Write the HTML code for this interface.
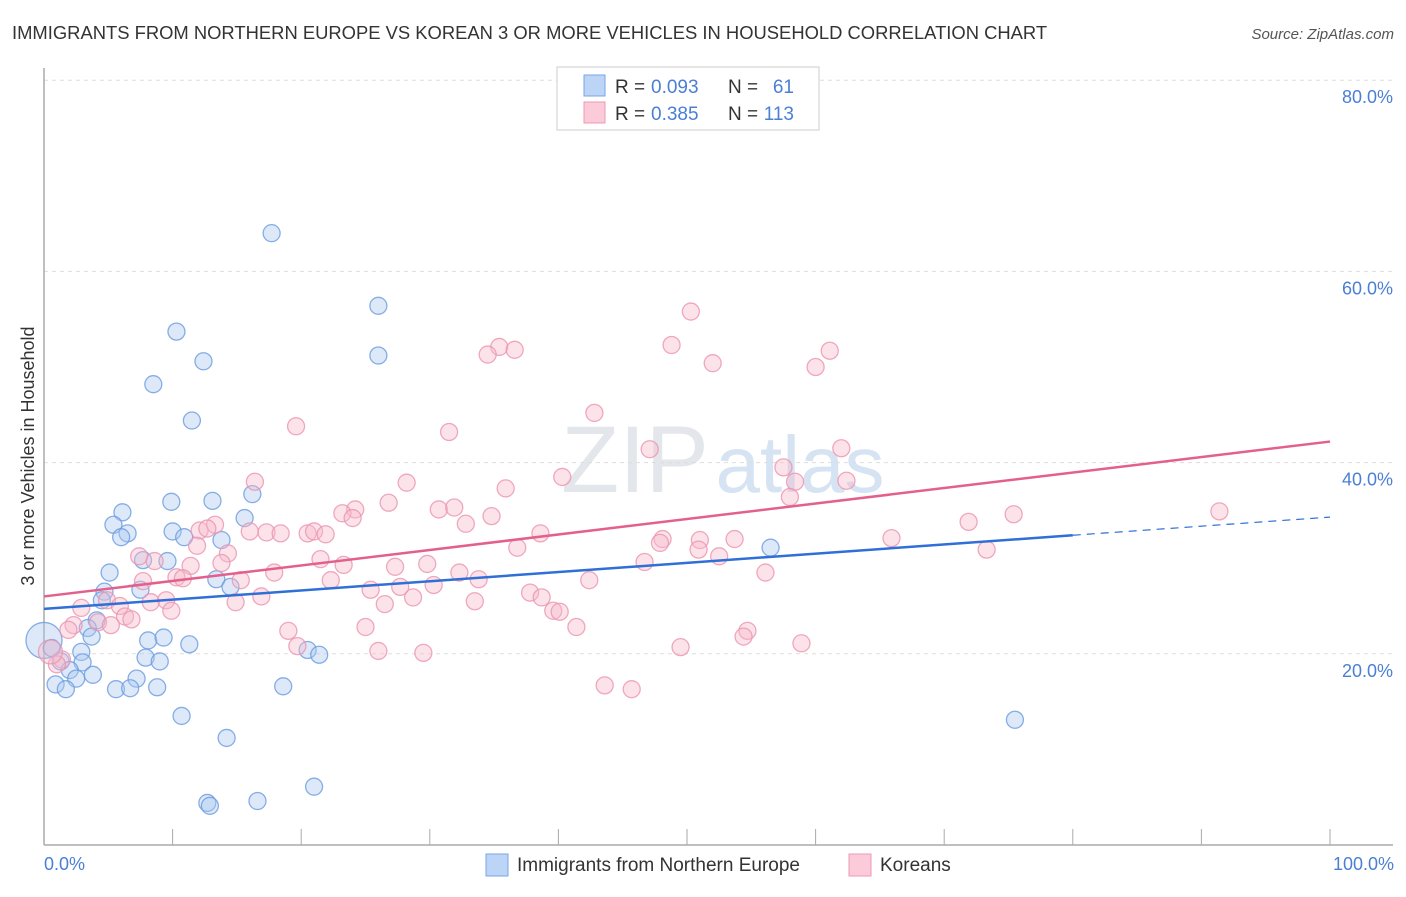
<!DOCTYPE html>
<html><head><meta charset="utf-8"><style>
body{margin:0;background:#fff;font-family:"Liberation Sans",sans-serif;}
svg text{font-family:"Liberation Sans",sans-serif;}
</style></head><body>
<svg width="1406" height="892" viewBox="0 0 1406 892">
<text x="12" y="39" font-size="18.4" fill="#333">IMMIGRANTS FROM NORTHERN EUROPE VS KOREAN 3 OR MORE VEHICLES IN HOUSEHOLD CORRELATION CHART</text>
<text x="1394" y="39" font-size="15" fill="#555" font-style="italic" text-anchor="end">Source: ZipAtlas.com</text>
<text x="635" y="492" font-size="95" fill="#e3e6ea" font-family="Liberation Serif" text-anchor="middle">ZIP</text>
<text x="800" y="492" font-size="80" fill="#d5e3f2" text-anchor="middle">atlas</text>
<g id="grid"></g>
<g id="axes"></g>
<g id="pts"></g>
<g id="lines"></g>
<text transform="translate(34,456) rotate(-90)" font-size="18" fill="#333" text-anchor="middle">3 or more Vehicles in Household</text>
<text x="44" y="870" font-size="18" fill="#4a7fd4">0.0%</text>
<text x="1394" y="870" font-size="18" fill="#4a7fd4" text-anchor="end">100.0%</text>
<g>
<rect x="486" y="854" width="22" height="22" fill="#bcd4f5" stroke="#7aa6e6"/>
<text x="517" y="871" font-size="19" fill="#333">Immigrants from Northern Europe</text>
<rect x="849" y="854" width="22" height="22" fill="#fbcbd9" stroke="#ee9ab4"/>
<text x="880" y="871" font-size="19" fill="#333">Koreans</text>
</g>
<g font-size="19">
<rect x="557" y="67" width="262" height="63" fill="#fff" stroke="#ccc"/>
<rect x="584" y="75" width="21" height="21" fill="#bcd4f5" stroke="#7aa6e6"/>
<rect x="584" y="102" width="21" height="21" fill="#fbcbd9" stroke="#ee9ab4"/>
<text x="615" y="93" fill="#333">R =</text><text x="651" y="93" fill="#4a7fd4">0.093</text>
<text x="728" y="93" fill="#333">N =</text><text x="794" y="93" fill="#4a7fd4" text-anchor="end">61</text>
<text x="615" y="120" fill="#333">R =</text><text x="651" y="120" fill="#4a7fd4">0.385</text>
<text x="728" y="120" fill="#333">N =</text><text x="794" y="120" fill="#4a7fd4" text-anchor="end">113</text>
</g>
</svg>
<script>
const yTicks=[20,40,60,80];
const xTicks=[0,10,20,30,40,50,60,70,80,90,100];
const blueX=[17.7,26.0,26.0,10.3,12.4,8.5,11.5,9.9,13.1,16.2,6.1,5.4,6.5,6.0,10.0,10.9,13.8,15.6,7.7,9.6,5.1,13.4,14.5,7.5,4.7,4.5,4.1,3.4,3.7,8.1,9.3,11.3,0.6,2.9,1.3,3.0,7.9,9.0,2.0,3.8,2.5,7.2,0.9,1.7,5.6,6.7,8.8,18.6,20.5,21.4,10.7,14.2,12.7,12.9,16.6,21.0,56.5,75.5];
const blueY=[64.0,56.4,51.2,53.7,50.6,48.2,44.4,35.9,36.0,36.7,34.8,33.5,32.6,32.2,32.8,32.2,31.9,34.2,29.8,29.7,28.5,27.8,27.0,26.7,26.5,25.6,23.5,22.7,21.8,21.4,21.7,21.0,20.6,20.2,19.2,19.1,19.6,19.2,18.3,17.8,17.4,17.4,16.8,16.3,16.3,16.4,16.5,16.6,20.4,19.9,13.5,11.2,4.4,4.1,4.6,6.1,31.1,13.1];
const pinkX=[50.3,48.8,35.4,36.6,34.5,61.1,52.0,60.0,42.8,19.6,31.5,47.1,62.0,40.3,57.5,58.4,62.4,16.4,28.2,35.9,58.0,26.8,24.2,23.2,30.7,31.9,24.0,34.8,32.8,91.4,75.4,71.9,13.3,12.1,12.7,16.0,17.3,18.4,20.5,21.0,21.9,38.6,48.1,47.9,51.0,53.7,65.9,11.9,36.8,50.9,52.5,73.3,7.4,14.3,21.5,8.6,29.8,46.7,11.4,13.8,23.3,27.3,17.9,32.3,10.3,10.8,7.7,15.3,22.3,33.8,42.4,56.1,27.7,30.3,25.4,16.9,28.7,37.8,38.7,4.9,9.5,8.3,14.9,33.5,26.5,5.9,2.9,9.9,39.6,40.1,6.3,6.8,4.2,5.2,2.3,1.9,25.0,41.4,19.0,54.7,54.4,19.7,49.5,58.9,26.0,29.5,1.4,1.0,43.6,45.7];
const pinkY=[55.8,52.3,52.1,51.8,51.3,51.7,50.4,50.0,45.2,43.8,43.2,41.4,41.5,38.5,39.5,38.0,38.1,38.0,37.9,37.3,36.4,35.8,35.1,34.7,35.1,35.3,34.2,34.4,33.6,34.9,34.6,33.8,33.5,32.9,33.1,32.8,32.7,32.6,32.6,32.8,32.5,32.6,32.0,31.6,31.9,32.0,32.1,31.3,31.1,30.9,30.2,30.9,30.2,30.5,29.9,29.7,29.4,29.6,29.2,29.5,29.3,29.1,28.5,28.5,28.0,27.9,27.6,27.7,27.7,27.8,27.7,28.5,27.0,27.2,26.7,26.0,25.9,26.4,25.9,25.6,25.6,25.4,25.4,25.5,25.2,25.0,24.8,24.5,24.5,24.4,23.9,23.6,23.3,23.0,23.0,22.5,22.8,22.8,22.4,22.4,21.8,20.8,20.7,21.1,20.3,20.1,19.4,18.9,16.7,16.3];
const bigBlue=[[0,21.4]], bigPink=[[0.5,20.2]];
const blueTrend=[[0,24.7],[80,32.4],[100,34.3]];
const pinkTrend=[[0,26.0],[100,42.2]];

const X=v=>44+v*12.86, Y=v=>845-v*9.56;
const NS='http://www.w3.org/2000/svg';
function mk(t,a,p){const e=document.createElementNS(NS,t);for(const k in a)e.setAttribute(k,a[k]);p.appendChild(e);return e;}
const grid=document.getElementById('grid'),axes=document.getElementById('axes'),pts=document.getElementById('pts'),lines=document.getElementById('lines');
yTicks.forEach(t=>{
  const l=mk('line',{x1:44,x2:1393,y1:Y(t),y2:Y(t),stroke:'#ddd','stroke-dasharray':'4,4'},grid);
  
  
  const tx=mk('text',{x:1393,y:Y(t)+23,'font-size':18,fill:'#4a7fd4','text-anchor':'end'},axes);
  tx.textContent=t.toFixed(1)+'%';
  
  
});
const ya=mk('line',{x1:44,x2:44,y1:68,y2:845,stroke:'#aaa','stroke-width':1.5},axes);


const xa=mk('line',{x1:44,x2:1393,y1:845,y2:845,stroke:'#aaa','stroke-width':1.5},axes);


xTicks.forEach(t=>{
  const l=mk('line',{x1:X(t),x2:X(t),y1:829,y2:845,stroke:'#aaa'},axes);
  
  
});
function dot(x,y,r,f,s,name){
  const c=mk('circle',{cx:X(x),cy:Y(y),r:r,fill:f,'fill-opacity':0.4,stroke:s,'stroke-opacity':0.8,'stroke-width':1.3},pts);
  
  
}
bigBlue.forEach(p=>dot(p[0],p[1],18,'#a9c8f0','#6a9be0','blue-point-large'));
blueX.forEach((x,i)=>dot(x,blueY[i],8.5,'#a9c8f0','#6a9be0','blue-point'));
pinkX.forEach((x,i)=>dot(x,pinkY[i],8.5,'#f7b8cb','#eb94b0','pink-point'));
bigPink.forEach(p=>dot(p[0],p[1],12,'#f7b8cb','#eb94b0','pink-point-large'));
const bt=mk('line',{x1:X(blueTrend[0][0]),y1:Y(blueTrend[0][1]),x2:X(blueTrend[1][0]),y2:Y(blueTrend[1][1]),stroke:'#2f6fd6','stroke-width':2.5},lines);


const bd=mk('line',{x1:X(blueTrend[1][0]),y1:Y(blueTrend[1][1]),x2:X(blueTrend[2][0]),y2:Y(blueTrend[2][1]),stroke:'#2f6fd6','stroke-width':1.2,'stroke-dasharray':'8,6'},lines);


const pt=mk('line',{x1:X(pinkTrend[0][0]),y1:Y(pinkTrend[0][1]),x2:X(pinkTrend[1][0]),y2:Y(pinkTrend[1][1]),stroke:'#e4608c','stroke-width':2.5},lines);


</script>
</body></html>
